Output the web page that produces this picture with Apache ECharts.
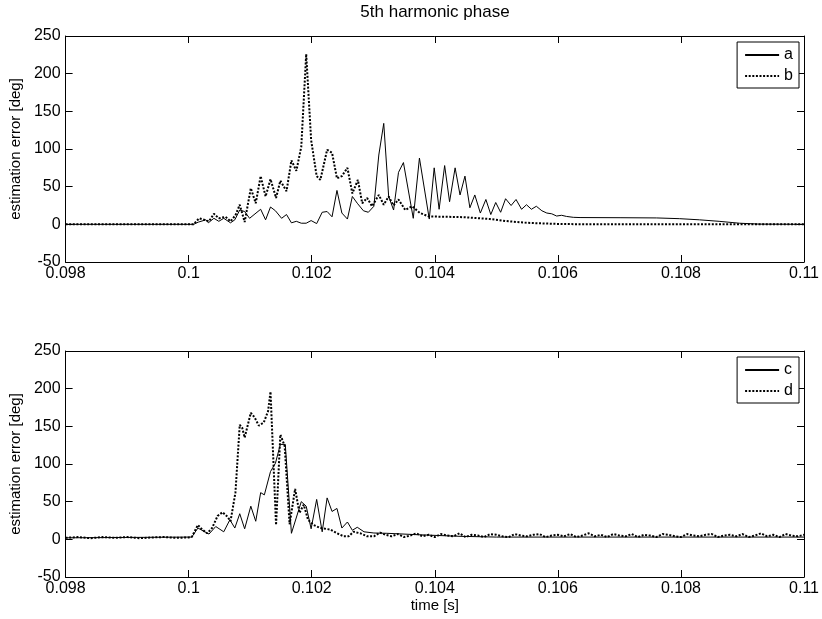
<!DOCTYPE html>
<html><head><meta charset="utf-8">
<script src="https://cdn.jsdelivr.net/npm/echarts@6/dist/echarts.min.js"></script>
<style>html,body{margin:0;padding:0;background:#fff}#c{width:822px;height:619px}</style>
</head><body><div id="c"></div>
<script>
const titleText = '5th harmonic phase';
const xName = 'time [s]';
const yName = 'estimation error [deg]';
const xMin = 0.098, xMax = 0.11, xStep = 0.002;
const yMin = -50, yMax = 250, yStep = 50;

// top subplot, solid "a"
const seriesA = [[0.098,0],[0.10008,0],[0.10016,3],[0.10028,6],[0.10032,2],[0.10041,8],[0.10049,4],[0.10057,8],[0.10068,2],[0.10075,6],[0.10083,19],[0.10091,17],[0.10099,8],[0.10117,20],[0.10125,6],[0.10133,23],[0.10141,18],[0.10151,8],[0.10159,13],[0.10167,2],[0.10175,4],[0.10183,1.5],[0.10191,1.5],[0.10199,5],[0.10208,1],[0.10217,16],[0.10225,17],[0.10233,10],[0.10241,45],[0.10249,15],[0.10258,7],[0.10266,37],[0.10274,28],[0.10284,18],[0.10292,16],[0.10301,24],[0.10309,92],[0.10317,134],[0.10325,37],[0.10333,19],[0.10341,69],[0.10349,82],[0.10365,8],[0.10375,88],[0.10391,7],[0.10399,75],[0.10407,20],[0.10416,78],[0.10424,30],[0.10433,75],[0.10441,39],[0.10449,64],[0.10457,22],[0.10465,39],[0.10474,15],[0.10483,33],[0.10491,13],[0.10499,29],[0.10507,16],[0.10515,34],[0.10524,25],[0.10532,33],[0.10541,20],[0.10549,26],[0.10557,20],[0.10565,24],[0.10574,18],[0.10582,15],[0.1059,14],[0.10598,11],[0.10606,12],[0.10614,10.5],[0.10625,9.3],[0.10636,9],[0.10701,8.8],[0.1076,8.5],[0.10798,7.5],[0.1083,6],[0.10862,4],[0.10895,1.5],[0.10927,0.3],[0.11,0]];
// top subplot, dotted "b"
const seriesB = [[0.098,0],[0.10008,0],[0.10017,8],[0.10025,6],[0.10033,4],[0.10041,14],[0.10049,8],[0.1006,10],[0.10068,4],[0.10076,12],[0.10083,26],[0.10091,3],[0.10101,48],[0.10109,28],[0.10117,64],[0.10125,37],[0.10133,60],[0.10142,35],[0.10149,58],[0.10159,44],[0.10167,85],[0.10175,71],[0.10183,103],[0.10191,226],[0.10199,112],[0.10208,64],[0.10214,59],[0.10225,99],[0.10233,95],[0.10241,61],[0.10249,64],[0.10258,75],[0.10266,41],[0.10275,59],[0.10282,28],[0.1029,35],[0.10298,24],[0.10309,39],[0.10317,26],[0.10325,37],[0.10333,25],[0.10341,33],[0.10352,19],[0.10363,24],[0.10376,15],[0.1039,10.5],[0.10446,9.5],[0.1049,7],[0.1052,4],[0.1055,2],[0.106,0.5],[0.1065,0],[0.11,0]];
// bottom subplot, solid "c"
const seriesC = [[0.098,2],[0.099,2.5],[0.10005,3],[0.10015,15],[0.10033,7],[0.10044,17],[0.10057,10],[0.10067,26],[0.10075,15],[0.10083,34],[0.10091,14],[0.10101,44],[0.10109,24],[0.10117,62],[0.10123,59],[0.10133,90],[0.10141,101],[0.10149,126],[0.10157,126],[0.10167,8],[0.10183,50],[0.10191,44],[0.10199,14],[0.10208,53],[0.10217,10],[0.10225,55],[0.10233,37],[0.10241,41],[0.10249,15],[0.10258,23],[0.10266,12],[0.10274,16],[0.10285,10],[0.10301,8.4],[0.10322,8],[0.10376,6],[0.10441,4],[0.105,3],[0.11,3]];
// bottom subplot, dotted "d" (main part)
const seriesD = [[0.098,2],[0.0982,3],[0.0984,1.5],[0.0986,3],[0.0988,2],[0.099,3],[0.0992,1.5],[0.0994,2.5],[0.0996,3],[0.0998,2],[0.1,2.5],[0.10005,3],[0.10015,19],[0.10022,13],[0.1003,8],[0.10038,15],[0.10047,31],[0.10055,36],[0.10063,30],[0.10068,24],[0.10076,62],[0.10083,152],[0.10087,148],[0.10091,135],[0.10101,168],[0.10107,162],[0.10114,151],[0.10122,155],[0.10129,170],[0.10133,196],[0.10142,19],[0.10149,139],[0.10156,124],[0.10164,20],[0.10173,67],[0.1018,35],[0.10187,46],[0.10194,26],[0.10203,19],[0.10214,15],[0.1023,13],[0.10241,8],[0.10252,4],[0.1026,4],[0.10268,10],[0.10279,8],[0.1029,4],[0.10301,4],[0.10311,9]];
// bottom subplot, dotted "d" tail ripple, sampled every 0.0001 s from 0.1032
const dTailStart = 0.1032, dTailStep = 0.0001;
const dTail = [6,4,7,3,5,8,4,6,3,7,5,4,8,3,6,5,3,7,6,4,3,7,5,4,6,7,3,5,6,4,7,3,5,8,4,6,3,7,5,4,7,3,6,5,3,7,6,4,3,7,5,4,6,7,3,5,6,4,7,3,5,8,4,6,3,7,5,4,6];

const dFull = seriesD.concat(dTail.map((v, i) => [+(dTailStart + i * dTailStep).toFixed(5), v]));

const FONT = 'Liberation Sans';
const gridTops = [36, 351];
const chart = echarts.init(document.getElementById('c'), null, {renderer: 'canvas'});

function xAx(gi, pos) {
  return {
    type: 'value', gridIndex: gi, position: pos, min: xMin, max: xMax, interval: xStep,
    name: (gi === 1 && pos === 'bottom') ? xName : '',
    nameLocation: 'middle', nameGap: 21,
    nameTextStyle: {fontFamily: FONT, fontSize: 15, color: '#000'},
    axisLine: {show: true, onZero: false, lineStyle: {color: '#000', width: 1}},
    axisTick: {show: true, inside: true, length: 7, lineStyle: {color: '#000'}},
    axisLabel: {show: pos === 'bottom', margin: 4, fontFamily: FONT, fontSize: 16, color: '#000',
      showMinLabel: true, showMaxLabel: true, hideOverlap: false,
      formatter: v => String(+v.toFixed(3))},
    splitLine: {show: false}
  };
}
function yAx(gi, pos) {
  return {
    type: 'value', gridIndex: gi, position: pos, min: yMin, max: yMax, interval: yStep,
    name: pos === 'left' ? yName : '',
    nameLocation: 'middle', nameGap: 40,
    nameTextStyle: {fontFamily: FONT, fontSize: 15, color: '#000'},
    axisLine: {show: true, onZero: false, lineStyle: {color: '#000', width: 1}},
    axisTick: {show: true, inside: true, length: 7, lineStyle: {color: '#000'}},
    axisLabel: {show: pos === 'left', margin: 5, fontFamily: FONT, fontSize: 16, color: '#000',
      showMinLabel: true, showMaxLabel: true, hideOverlap: false},
    splitLine: {show: false}
  };
}
const solid = {color: '#000', width: 1, type: 'solid'};
const dotted = {color: '#000', width: 2, type: [2, 1.6]};
function legend(names, top) {
  return {
    data: names, orient: 'vertical', right: 23, top: top,
    itemWidth: 34, itemHeight: 14, itemGap: 5, padding: [5, 6, 4, 7],
    borderColor: '#000', borderWidth: 1, backgroundColor: '#fff',
    selectedMode: false,
    itemStyle: {opacity: 0, borderWidth: 0},
    textStyle: {fontFamily: FONT, fontSize: 16, color: '#000'}
  };
}
chart.setOption({
  animation: false,
  backgroundColor: '#fff',
  title: {text: titleText, left: 435, textAlign: 'center', top: 4, padding: 0,
    textStyle: {fontFamily: FONT, fontSize: 17, fontWeight: 'normal', color: '#000'}},
  grid: [
    {left: 65, right: 17, top: gridTops[0], height: 226, containLabel: false},
    {left: 65, right: 17, top: gridTops[1], height: 226, containLabel: false}
  ],
  xAxis: [xAx(0, 'bottom'), xAx(0, 'top'), xAx(1, 'bottom'), xAx(1, 'top')],
  yAxis: [yAx(0, 'left'), yAx(0, 'right'), yAx(1, 'left'), yAx(1, 'right')],
  legend: [legend(['a', 'b'], 42), legend(['c', 'd'], 357)],
  series: [
    {name: 'a', type: 'line', xAxisIndex: 0, yAxisIndex: 0, data: seriesA, symbol: 'none', lineStyle: solid, itemStyle: {color: '#000'}, clip: true},
    {name: 'b', type: 'line', xAxisIndex: 0, yAxisIndex: 0, data: seriesB, symbol: 'none', lineStyle: dotted, itemStyle: {color: '#000'}, clip: true},
    {name: 'c', type: 'line', xAxisIndex: 2, yAxisIndex: 2, data: seriesC, symbol: 'none', lineStyle: solid, itemStyle: {color: '#000'}, clip: true},
    {name: 'd', type: 'line', xAxisIndex: 2, yAxisIndex: 2, data: dFull, symbol: 'none', lineStyle: dotted, itemStyle: {color: '#000'}, clip: true}
  ]
});
</script></body></html>
